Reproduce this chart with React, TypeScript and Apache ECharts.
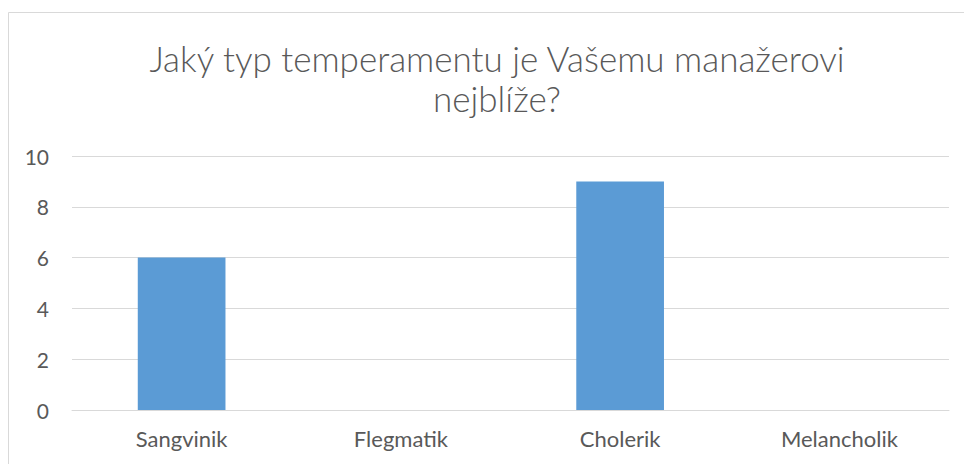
import React, { useEffect, useRef } from "react";
import * as echarts from "echarts";

const categories = ["Sangvinik", "Flegmatik", "Cholerik", "Melancholik"];
const values = [6, 0, 9, 0];
const titleText = "Jaký typ temperamentu je Vašemu manažerovi\nnejblíže?";

export default function App() {
  const ref = useRef<HTMLDivElement>(null);
  useEffect(() => {
    document.body.style.margin = "0";
    const chart = echarts.init(ref.current!, null, { renderer: "svg" });
    chart.setOption({
      animation: false,
      backgroundColor: "#ffffff",
      textStyle: { fontFamily: "Lato" },
      graphic: [
        {
          type: "rect",
          shape: { x: 8.5, y: 12.5, width: 1000, height: 500 },
          style: { fill: "none", stroke: "#D9D9D9", lineWidth: 1 },
          silent: true,
        },
      ],
      title: {
        text: titleText,
        left: 492,
        top: 33,
        textAlign: "center",
        textStyle: {
          fontFamily: "Lato",
          fontSize: 35,
          fontWeight: 300,
          color: "#595959",
          lineHeight: 40,
        },
      },
      grid: { left: 72, right: 15, top: 156, bottom: 54 },
      xAxis: {
        type: "category",
        data: categories,
        axisLine: { show: true, lineStyle: { color: "#D9D9D9", width: 1 } },
        axisTick: { show: false },
        axisLabel: { color: "#595959", fontSize: 22, margin: 17, fontFamily: "Lato" },
      },
      yAxis: {
        type: "value",
        min: 0,
        max: 10,
        interval: 2,
        axisLine: { show: false },
        axisTick: { show: false },
        splitLine: { lineStyle: { color: "#D9D9D9", width: 1 } },
        axisLabel: { color: "#595959", fontSize: 21, margin: 23, fontFamily: "Lato" },
      },
      series: [
        {
          type: "bar",
          data: values,
          barWidth: "40%",
          itemStyle: { color: "#5B9BD5" },
        },
      ],
    });
    return () => chart.dispose();
  }, []);
  return <div ref={ref} style={{ width: 964, height: 464 }} />;
}
